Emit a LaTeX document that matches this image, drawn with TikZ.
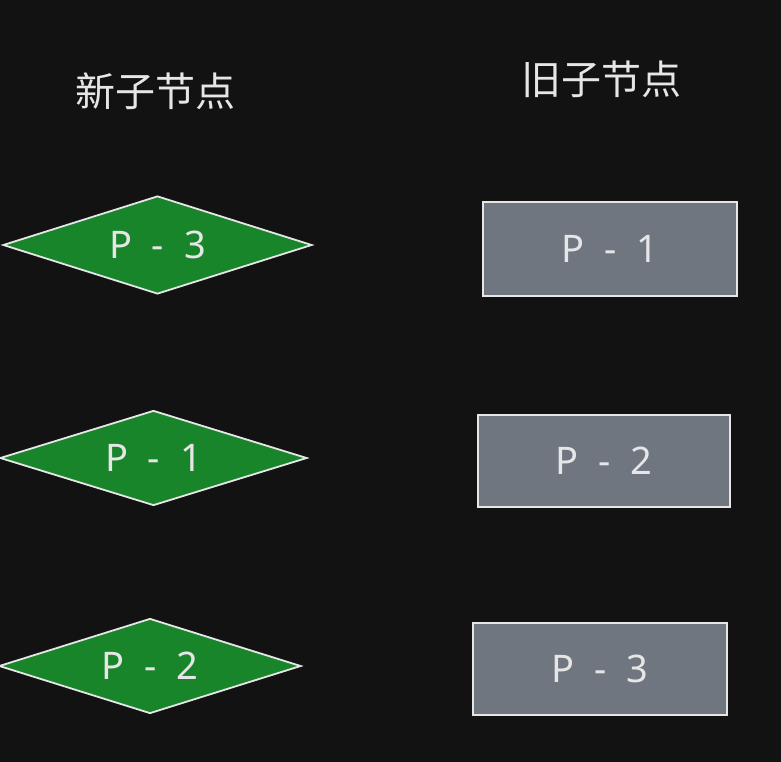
\documentclass[tikz,border=0pt]{standalone}
\usepackage{fontspec}
\usetikzlibrary{shapes.geometric}
\setmainfont{Noto Sans}
\newfontfamily\cjk{Noto Sans CJK SC}
\definecolor{myBg}{RGB}{18, 18, 18}
\definecolor{myGreen}{RGB}{25, 133, 43}
\definecolor{myGray}{RGB}{111, 118, 128}
\definecolor{myWhite}{RGB}{230, 230, 230}
\newcommand{\plabel}[1]{P\hskip20pt-\hskip20pt#1}

\begin{document}
\begin{tikzpicture}[x=1pt,y=-1pt,
		newnode/.style={diamond, aspect=3.15, draw=myWhite, fill=myGreen, line width=1.8pt, inner sep=0pt, minimum width=309pt, minimum height=98pt, text=myWhite, font=\fontsize{38}{40}\selectfont},
		oldnode/.style={rectangle, draw=myWhite, fill=myGray, line width=1.8pt, inner sep=0pt, minimum width=254pt, minimum height=94pt, text=myWhite, font=\fontsize{38}{40}\selectfont},
		title/.style={text=myWhite, font=\cjk\fontsize{40}{42}\selectfont}]
			\fill[myBg] (0,0) rectangle (781,762);
			\useasboundingbox (0,0) rectangle (781,762);
			\draw (155,91) node[title] (newTitle) {新子节点};
			\draw (601,79) node[title] (oldTitle) {旧子节点};
	
			\draw (157.5,245) node[newnode] (N3) {\plabel{3}};
			\draw (153.5,458) node[newnode, minimum width=307pt, minimum height=95pt] (N1) {\plabel{1}};
			\draw (150,666) node[newnode, minimum width=302pt, minimum height=95pt] (N2) {\plabel{2}};
	
			\draw (610,249) node[oldnode] (O1) {\plabel{1}};
			\draw (604,461) node[oldnode, minimum width=252pt, minimum height=92pt] (O2) {\plabel{2}};
			\draw (600,669) node[oldnode, minimum width=254pt, minimum height=92pt] (O3) {\plabel{3}};
		\end{tikzpicture}
\end{document}
